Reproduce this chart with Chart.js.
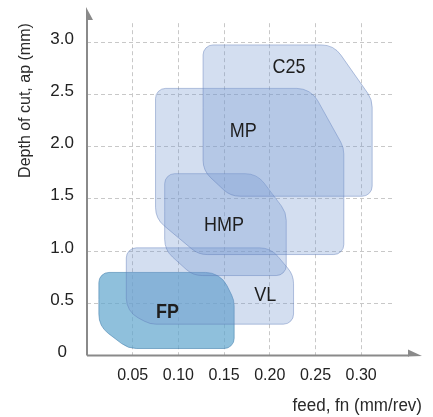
<!DOCTYPE html>
<html>
<head>
<meta charset="utf-8">
<script src="https://cdn.jsdelivr.net/npm/chart.js@4.4.1/dist/chart.umd.min.js"></script>
<style>
  body { margin: 0; background: #fff; }
  canvas { display: block; }
</style>
</head>
<body>
<canvas id="zoneChart" width="433" height="417"></canvas>
<script>
// application areas: feed fn (mm/rev) against depth of cut ap (mm)
var zones = ['FP', 'VL', 'HMP', 'MP', 'C25'];
var feedMin = [0.013, 0.043, 0.085, 0.075, 0.127];
var feedMax = [0.161, 0.226, 0.218, 0.281, 0.312];
var depthMin = [0.067, 0.30, 0.765, 0.966, 1.524];
var depthMax = [0.795, 1.03, 1.74, 2.556, 2.972];
// top right chamfer: end of top edge (feed) and start of right edge (depth)
var chamferTopFeed = [0.146, 0.201, 0.186, 0.245, 0.270];
var chamferTopDepth = [0.53, 0.77, 1.37, 1.99, 2.45];
// bottom left chamfer: end of left edge (depth) and start of bottom edge (feed)
var chamferLowDepth = [0.28, 0.42, 1.01, 1.31, 1.77];
var chamferLowFeed = [0.045, 0.069, 0.116, 0.122, 0.157];
// where the names sit
var labelFeed = [0.088, 0.195, 0.150, 0.171, 0.221];
var labelDepth = [0.41, 0.57, 1.24, 2.14, 2.76];
var xTicks = [0.05, 0.10, 0.15, 0.20, 0.25, 0.30];
var yTicks = [0, 0.5, 1.0, 1.5, 2.0, 2.5, 3.0];

var fontFamily = "'Liberation Sans', Arial, sans-serif";
var lightFill = 'rgba(118, 152, 208, 0.32)';
var lightEdge = 'rgba(95, 125, 185, 0.45)';
var fpFill = 'rgba(95, 165, 205, 0.7)';
var fpEdge = 'rgba(70, 130, 175, 0.6)';
// corner radius for each of the 6 corners (plain corners smaller, chamfer bends bigger)
var cornerRadius = [10, 24, 24, 10, 24, 24];

var datasets = zones.map(function (name, i) {
    return {
        label: name,
        data: [
            { x: feedMin[i], y: depthMax[i] },
            { x: chamferTopFeed[i], y: depthMax[i] },
            { x: feedMax[i], y: chamferTopDepth[i] },
            { x: feedMax[i], y: depthMin[i] },
            { x: chamferLowFeed[i], y: depthMin[i] },
            { x: feedMin[i], y: chamferLowDepth[i] }
        ],
        showLine: false,
        pointRadius: 0,
        backgroundColor: name === 'FP' ? fpFill : lightFill,
        borderColor: name === 'FP' ? fpEdge : lightEdge
    };
});

function clampRadius(prev, p, next, r) {
    var ax = prev.x - p.x, ay = prev.y - p.y;
    var bx = next.x - p.x, by = next.y - p.y;
    var la = Math.hypot(ax, ay), lb = Math.hypot(bx, by);
    var cos = (ax * bx + ay * by) / (la * lb);
    var theta = Math.acos(Math.max(-1, Math.min(1, cos)));
    var maxTan = Math.min(la, lb) / 2;
    return Math.min(r, maxTan * Math.tan(theta / 2));
}

function roundedShape(ctx, pts) {
    var n = pts.length;
    ctx.beginPath();
    ctx.moveTo((pts[n - 1].x + pts[0].x) / 2, (pts[n - 1].y + pts[0].y) / 2);
    for (var i = 0; i < n; i++) {
        var prev = pts[(i - 1 + n) % n], p = pts[i], next = pts[(i + 1) % n];
        ctx.arcTo(p.x, p.y, next.x, next.y, clampRadius(prev, p, next, cornerRadius[i]));
    }
    ctx.closePath();
}

// text in the original is a little taller than wide
function tallText(ctx, text, x, y) {
    ctx.save();
    ctx.translate(x, y);
    ctx.scale(1, 1.1);
    ctx.fillText(text, 0, 0);
    ctx.restore();
}

var zonePlugin = {
    id: 'zones',
    beforeDatasetsDraw: function (chart) {
        var ctx = chart.ctx;
        ctx.save();
        chart.data.datasets.forEach(function (ds, i) {
            var pts = chart.getDatasetMeta(i).data.map(function (el) { return { x: el.x, y: el.y }; });
            roundedShape(ctx, pts);
            ctx.fillStyle = ds.backgroundColor;
            ctx.fill();
            ctx.lineWidth = 1;
            ctx.strokeStyle = ds.borderColor;
            ctx.stroke();
        });
        ctx.restore();
    },
    afterDatasetsDraw: function (chart) {
        var ctx = chart.ctx, xs = chart.scales.x, ys = chart.scales.y;
        ctx.save();
        ctx.fillStyle = '#1e1e1e';
        ctx.textAlign = 'center';
        ctx.textBaseline = 'middle';
        zones.forEach(function (name, i) {
            ctx.font = (name === 'FP' ? 'bold ' : '') + '18px ' + fontFamily;
            tallText(ctx, name, xs.getPixelForValue(labelFeed[i]), ys.getPixelForValue(labelDepth[i]));
        });
        ctx.restore();
    },
    afterDraw: function (chart) {
        var ctx = chart.ctx, a = chart.chartArea;
        ctx.save();
        // axis lines with arrow heads
        ctx.strokeStyle = '#8a8a8a';
        ctx.fillStyle = '#8a8a8a';
        ctx.lineWidth = 2;
        ctx.beginPath();
        ctx.moveTo(a.left, a.bottom);
        ctx.lineTo(409, a.bottom);
        ctx.moveTo(a.left, a.bottom);
        ctx.lineTo(a.left, 19);
        ctx.stroke();
        ctx.beginPath();
        ctx.moveTo(408, a.bottom - 6);
        ctx.lineTo(422, a.bottom + 0.5);
        ctx.lineTo(408, a.bottom + 1);
        ctx.closePath();
        ctx.fill();
        ctx.beginPath();
        ctx.moveTo(a.left - 1, 7);
        ctx.lineTo(a.left + 6, 20);
        ctx.lineTo(a.left - 1, 20);
        ctx.closePath();
        ctx.fill();
        // x axis title, right aligned under the arrow
        ctx.fillStyle = '#2a2a2a';
        ctx.font = '17px ' + fontFamily;
        ctx.textAlign = 'right';
        ctx.textBaseline = 'middle';
        tallText(ctx, 'feed, fn (mm/rev)', 422, 406);
        ctx.restore();
    }
};

var ctx = document.getElementById('zoneChart').getContext('2d');
var zoneChart = new Chart(ctx, {
    type: 'scatter',
    data: { datasets: datasets },
    options: {
        responsive: false,
        animation: false,
        devicePixelRatio: 1,
        layout: { padding: { left: 0, right: 38, top: 13, bottom: 0 } },
        plugins: {
            legend: { display: false },
            tooltip: { enabled: false }
        },
        scales: {
            x: {
                type: 'linear',
                min: 0,
                max: 0.337,
                afterBuildTicks: function (scale) {
                    scale.ticks = xTicks.map(function (v) { return { value: v }; });
                },
                afterFit: function (scale) { scale.height = 61.5; },
                ticks: {
                    padding: 10,
                    color: '#222',
                    font: { size: 16, family: fontFamily },
                    callback: function (v) { return v.toFixed(2); }
                },
                grid: { color: '#c8c8c8', lineWidth: 1, drawTicks: false },
                border: { display: false, dash: [4, 3] }
            },
            y: {
                type: 'linear',
                min: 0,
                max: 3.18,
                afterBuildTicks: function (scale) {
                    scale.ticks = yTicks.map(function (v) { return { value: v }; });
                },
                afterFit: function (scale) { scale.width = 87; },
                ticks: {
                    padding: 13,
                    labelOffset: -3,
                    crossAlign: 'center',
                    color: '#222',
                    font: { size: 17, family: fontFamily },
                    callback: function (v) { return v === 0 ? '0' : v.toFixed(1); }
                },
                grid: { color: '#c8c8c8', lineWidth: 1, drawTicks: false },
                border: { display: false, dash: [4, 3] },
                title: {
                    display: true,
                    text: 'Depth of cut, ap (mm)',
                    align: 'end',
                    color: '#2a2a2a',
                    font: { size: 16, family: fontFamily },
                    padding: { top: 16, bottom: 0 }
                }
            }
        }
    },
    plugins: [zonePlugin]
});
</script>
</body>
</html>
